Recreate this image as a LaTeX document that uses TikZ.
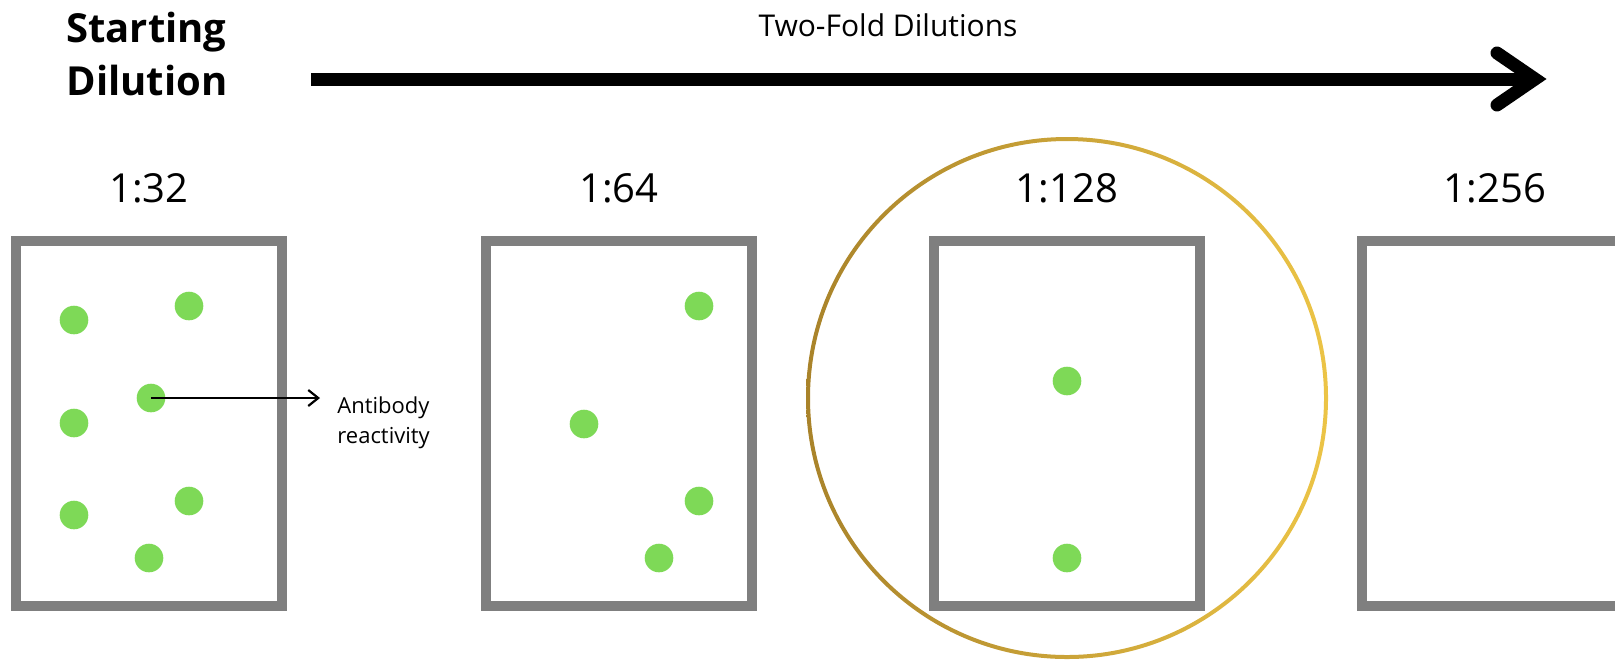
\documentclass[tikz,border=0pt]{standalone}
\usepackage{fontspec}
\setmainfont{Open Sans}
\usetikzlibrary{positioning,arrows.meta}
\definecolor{wellgray}{HTML}{7F7F7F}
\definecolor{cellgreen}{HTML}{7ED957}
\definecolor{golddark}{HTML}{A9832A}
\definecolor{goldlight}{HTML}{ECC446}

\begin{document}
\begin{tikzpicture}[x=0.5pt,y=-0.5pt,
  well/.style={draw=wellgray, line width=5pt, minimum width=133pt, minimum height=182.5pt, inner sep=0pt},
  cell/.style={circle, fill=cellgreen, minimum size=14.3pt, inner sep=0pt},
  ratio/.style={font=\fontsize{20}{24}\selectfont, inner sep=0pt},
  bigline/.style={line width=6.5pt},
  pointer/.style={line width=1.1pt, -{Straight Barb[length=5pt,width=8pt]}}]
\useasboundingbox (0,0) rectangle (1615,660);
\clip (0,0) rectangle (1615,660);
% header
\node[font=\bfseries\fontsize{20}{26.5}\selectfont, align=left, anchor=base west, inner sep=0pt] (start) at (66,95) {Starting\\Dilution};
\node[font=\fontsize{15}{18}\selectfont, anchor=base, inner sep=0pt] (twofold) at (888,36) {Two-Fold Dilutions};
% long arrow
\coordinate (tail) at (311,79);
\coordinate (head) at (1535,79);
\draw[bigline] (tail) -- (head);
\draw[bigline, line cap=round, line join=miter] (1497,53) -- (head) -- (1497,105);
% golden ring round 1:128
\shade[left color=golddark, right color=goldlight, even odd rule] (1067,398) circle (261) circle (257);
% wells
\node[well] (w1) at (149,423.5) {};
\node[well] (w2) at (619,423.5) {};
\node[well] (w3) at (1067,423.5) {};
\node[well] (w4) at (1495,423.5) {};
% ratios
\node[ratio, above=17pt of w1.north, anchor=base] (r1) {1:32};
\node[ratio, above=17pt of w2.north, anchor=base] (r2) {1:64};
\node[ratio, above=17pt of w3.north, anchor=base] (r3) {1:128};
\node[ratio, above=17pt of w4.north, anchor=base] (r4) {1:256};
% cells, 1:32
\node[cell] (c11) at (74,320) {};
\node[cell] (c12) at (189,306) {};
\node[cell] (c13) at (151,398) {};
\node[cell] (c14) at (74,423) {};
\node[cell] (c15) at (74,515) {};
\node[cell] (c16) at (189,501) {};
\node[cell] (c17) at (149,558) {};
% cells, 1:64
\node[cell] (c21) at (699,306) {};
\node[cell] (c22) at (584,424) {};
\node[cell] (c23) at (699,501) {};
\node[cell] (c24) at (659,558) {};
% cells, 1:128
\node[cell] (c31) at (1067,381) {};
\node[cell] (c32) at (1067,558) {};
% antibody note
\coordinate (abtip) at (320,398);
\draw[pointer] (c13.center) -- (abtip);
\node[font=\fontsize{11}{15}\selectfont, align=left, anchor=base west, inner sep=0pt] (antibody) at (337,443) {Antibody\\reactivity};
\end{tikzpicture}
\end{document}
